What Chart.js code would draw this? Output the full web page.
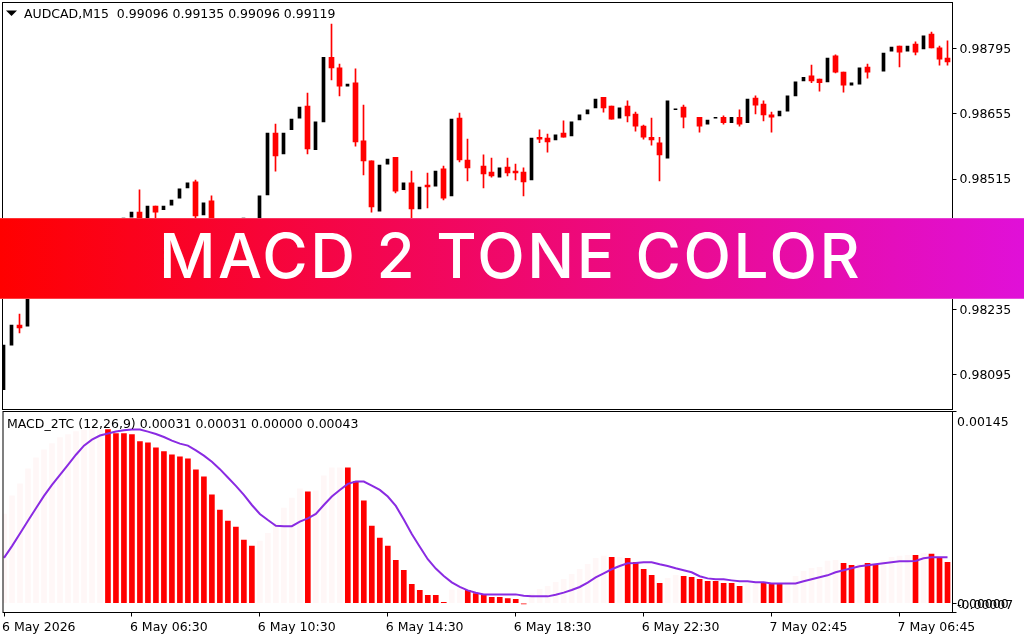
<!DOCTYPE html>
<html>
<head>
<meta charset="utf-8">
<title>MACD 2 Tone Color</title>
<script src="https://cdn.jsdelivr.net/npm/chart.js@4/dist/chart.umd.min.js"></script>
<style>
  html, body { margin: 0; padding: 0; background: #fff; overflow: hidden; }
  #wrap { position: relative; width: 1024px; height: 640px; }
  canvas { position: absolute; left: 0; }
  #priceChart { top: 0; }
  #macdChart { top: 410px; }
  #banner {
    position: absolute; left: 0; top: 218px; width: 1024px; height: 81px;
    background: linear-gradient(90deg, #ff0000 0%, #e010d8 100%);
    box-shadow: inset 0 1px 0 rgba(255,255,255,.2), inset 0 -1px 0 rgba(255,255,255,.25);
    color: #fff; font-family: Inter, sans-serif; font-weight: 500; font-size: 62px;
    line-height: 76px; text-align: center; white-space: nowrap; letter-spacing: 2.5px; text-indent: -3px;
  }
</style>
</head>
<body>
<div id="wrap">
  <canvas id="priceChart" width="1024" height="410"></canvas>
  <canvas id="macdChart" width="1024" height="230"></canvas>
  <div id="banner">MACD 2 TONE COLOR</div>
</div>
<script>
// candles in points (1 point = 0.00001), null = hidden behind the banner
const opens = [98062,98158,98201,98199,null,null,null,null,null,null,null,null,null,null,null,98410,98433,98444,98423,98457,
  98449,98459,98474,98496,98509,98438,98468,null,null,null,98416,null,98414,98481,98614,98569,98621,98646,98672,98578,
  98638,98777,98754,98715,98722,98597,98554,98446,98547,98562,98492,98507,98451,98502,98500,98537,98479,98646,98556,null,
  98543,98530,98519,98541,98532,98530,98513,98605,98603,98599,98614,98608,98642,98655,98668,98691,98672,98646,98672,98655,
  98629,98605,98593,98560,98664,98670,null,98648,98633,98646,98648,98636,98648,98636,98689,98676,98653,98651,98661,98694,
  98726,98737,98730,98724,98780,98745,98717,98719,98756,null,98747,98790,98801,98790,98805,98795,98827,98797,98775];
const highs = [98158,98201,98225,98277,null,null,null,null,null,null,null,null,null,null,null,98431,98444,98492,98457,98457,
  98457,98470,98494,98507,98513,98464,98479,null,null,null,98431,null,98479,98614,98633,98614,98644,98670,98700,98638,
  98777,98848,98762,98719,98752,98674,98554,98545,98558,98562,98507,98532,98498,98528,98532,98543,98644,98657,98601,null,
  98567,98560,98539,98560,98547,98539,98603,98621,98612,98610,98640,98638,98653,98664,98687,98691,98672,98668,98683,98659,
  98631,98646,98605,98683,98666,98674,null,98648,98642,98648,98651,98648,98664,98687,98694,98683,98659,98661,98694,98724,
  98734,98760,98730,98775,98782,98745,98722,98754,98762,null,98786,98799,98801,98801,98810,98823,98831,98801,98812];
const lows = [98062,98158,98184,98199,null,null,null,null,null,null,null,null,null,null,null,98410,98433,98414,98423,98418,
  98449,98459,98474,98496,98431,98438,98418,null,null,null,98416,null,98414,98481,98532,98569,98621,98646,98569,98578,
  98638,98728,98694,98715,98586,98524,98444,98446,98547,98485,98492,98427,98451,98453,98500,98470,98479,98552,98511,null,
  98496,98519,98519,98522,98513,98479,98513,98593,98573,98599,98605,98608,98642,98655,98668,98659,98644,98646,98638,98618,
  98601,98588,98511,98560,98664,98625,null,98616,98633,98646,98633,98636,98629,98636,98655,98640,98616,98651,98661,98694,
  98726,98722,98704,98724,98743,98702,98717,98719,98732,null,98747,98790,98756,98790,98782,98795,98797,98760,98760];
const closes = [98158,98201,98195,98277,null,null,null,null,null,null,null,null,null,null,null,98431,98444,98414,98457,98444,
  98457,98470,98494,98507,98436,98464,98418,null,null,null,98431,null,98479,98614,98565,98614,98644,98670,98580,98638,
  98777,98754,98715,98719,98595,98554,98455,98545,98558,98489,98507,98451,98498,98498,98532,98474,98644,98556,98539,null,
  98526,98522,98539,98528,98528,98509,98603,98601,98595,98610,98605,98638,98653,98664,98687,98668,98644,98668,98651,98629,
  98605,98599,98567,98683,98666,98648,null,98629,98642,98648,98636,98648,98633,98687,98674,98653,98648,98661,98694,98724,
  98734,98726,98722,98775,98745,98717,98722,98754,98745,null,98786,98799,98788,98801,98788,98823,98797,98773,98767];

// histogram and signal in millionths
const macdHist = [675,812,903,1017,1100,1161,1207,1252,1275,1298,1307,1313,1313,1313,1283,1283,1275,1222,1214,1176,
  1146,1123,1108,1093,1009,956,819,705,622,576,477,432,470,528,604,720,796,865,842,850,
  964,1024,1024,1024,920,774,584,492,432,325,249,143,97,59,59,6,102,110,97,74,
  67,44,44,36,29,-5,72,105,128,158,181,219,257,295,340,356,348,348,340,310,
  257,211,150,188,211,204,196,181,166,166,150,150,128,148,148,158,143,150,161,204,
  242,264,272,318,325,302,287,295,302,295,325,348,356,363,363,376,371,348,310];
const macdSignal = [343,432,528,624,718,812,895,971,1047,1123,1192,1237,1268,1283,1298,1308,1313,1313,1298,1280,
  1257,1230,1207,1192,1156,1116,1070,1014,951,888,819,743,675,629,586,583,583,617,642,675,
  743,807,857,903,920,920,890,857,807,736,634,523,427,333,262,206,158,123,97,80,
  67,67,67,67,67,57,52,52,52,64,80,100,123,156,196,226,257,282,302,305,
  310,310,295,282,264,249,234,204,188,181,181,173,166,166,158,158,150,150,150,150,
  166,181,196,211,234,249,264,280,287,295,302,310,318,318,320,340,348,348,348];
// bars drawn in the strong tone, all others are pale
const redBars = [13,14,15,16,17,18,19,20,21,22,23,24,25,26,27,28,29,30,31,38,
  43,44,45,46,47,48,49,50,51,52,53,54,55,58,59,60,61,62,63,64,65,76,78,79,80,81,82,
  85,86,87,88,89,90,91,92,95,96,97,105,106,108,109,114,116,117,118];

const priceTicks = [0.98795, 0.98655, 0.98515, 0.98375, 0.98235, 0.98095];
const macdTicks = [0.00145, 0, -0.00007];
const macdTickLabels = ["0.00145", "0.00000", "-0.00007"];
const timeTickBars = [0, 16, 32, 48, 64, 80, 96, 112];
const timeTickLabels = ["6 May 2026", "6 May 06:30", "6 May 10:30", "6 May 14:30", "6 May 18:30", "6 May 22:30", "7 May 02:45", "7 May 06:45"];
const priceHeader = "AUDCAD,M15  0.99096 0.99135 0.99096 0.99119";
const macdHeader = "MACD_2TC (12,26,9) 0.00031 0.00031 0.00000 0.00043";

const FONT = '12.5px "DejaVu Sans"';
const TEXT = "#000";
const RED = "#ff0000";
const PALE = "#fff7f7";
const VIOLET = "#8a2be2";

// bar index range so that bar i has its centre at x = 3.5 + 8 * i
const xMin = -0.125, xMax = 118.625;

Chart.defaults.font.family = "DejaVu Sans";
Chart.defaults.font.size = 12.5;
Chart.defaults.color = TEXT;

// candle parts, bodies and wicks are separate floating bars
const blackBodies = [], redBodies = [], redWicks = [];
opens.forEach((open, i) => {
  if (open === null) return;
  const body = { x: i, y: [open / 1e5, closes[i] / 1e5] };
  if (closes[i] > open) {
    blackBodies.push(body);
  } else {
    redBodies.push(body);
    redWicks.push({ x: i, y: [lows[i] / 1e5, highs[i] / 1e5] });
  }
});

const paleHist = [], redHist = [];
macdHist.forEach((v, i) => {
  (redBars.includes(i) ? redHist : paleHist).push({ x: i, y: v / 1e6 });
});

// frame round the plot and the small text line at its top left
const panelPlugin = {
  id: "panel",
  afterDraw(chart, args, opts) {
    const { ctx, chartArea: a } = chart;
    ctx.save();
    ctx.strokeStyle = "#000";
    ctx.lineWidth = 1;
    ctx.strokeRect(a.left, a.top, a.right - a.left, a.bottom - a.top);
    ctx.fillStyle = TEXT;
    ctx.font = FONT;
    ctx.textBaseline = "middle";
    ctx.textAlign = "left";
    ctx.fillText(opts.text, opts.x, opts.y);
    if (opts.arrow) {
      ctx.beginPath();
      ctx.moveTo(6, 10.5);
      ctx.lineTo(17, 10.5);
      ctx.lineTo(11.5, 16);
      ctx.closePath();
      ctx.fill();
    }
    ctx.restore();
  }
};

// MT4 keeps the scale labels inside the panel, so they sit off their ticks
const macdLabelsPlugin = {
  id: "macdLabels",
  afterDraw(chart) {
    const { ctx, scales } = chart;
    const shifts = [11, 2, -7];
    ctx.save();
    ctx.fillStyle = TEXT;
    ctx.font = FONT;
    ctx.textBaseline = "middle";
    ctx.textAlign = "left";
    macdTicks.forEach((v, i) => {
      ctx.fillText(macdTickLabels[i], 957, scales.y.getPixelForValue(v) + shifts[i]);
    });
    ctx.restore();
  }
};

const priceChart = new Chart(document.getElementById("priceChart"), {
  type: "bar",
  data: {
    datasets: [
      { data: redWicks, backgroundColor: RED, barThickness: 1, grouped: false, order: 3 },
      { data: redBodies, backgroundColor: RED, barThickness: 5, grouped: false, order: 2 },
      { data: blackBodies, backgroundColor: "#000", barThickness: 3, grouped: false, order: 1 }
    ]
  },
  options: {
    responsive: false,
    animation: false,
    devicePixelRatio: 1,
    layout: { autoPadding: false, padding: { left: 2.5, top: 2.5, bottom: 0.5 } },
    plugins: {
      legend: { display: false },
      tooltip: { enabled: false },
      panel: { text: priceHeader, x: 24, y: 15, arrow: true }
    },
    scales: {
      x: {
        type: "linear", min: xMin, max: xMax, offset: false, display: false,
        grid: { offset: false }
      },
      y: {
        position: "right", min: 0.9801958, max: 0.9889463,
        grid: { drawOnChartArea: false, color: "#000", tickLength: 4 },
        border: { color: "#000" },
        afterBuildTicks: s => { s.ticks = priceTicks.map(v => ({ value: v })); },
        // the top and bottom labels must not shrink the plot
        afterFit: s => { s.width = 71.5; s.paddingTop = 0; s.paddingBottom = 0; },
        ticks: { padding: 3, labelOffset: 1, callback: v => v.toFixed(5) }
      }
    }
  },
  plugins: [panelPlugin]
});

const macdChart = new Chart(document.getElementById("macdChart"), {
  type: "bar",
  data: {
    datasets: [
      { type: "line", data: macdSignal.map((v, i) => ({ x: i, y: v / 1e6 })), borderColor: VIOLET, borderWidth: 2, pointRadius: 0, tension: 0, order: 0 },
      { data: redHist, backgroundColor: RED, barThickness: 5, grouped: false, order: 1 },
      { data: paleHist, backgroundColor: PALE, barThickness: 5, grouped: false, order: 2 }
    ]
  },
  options: {
    responsive: false,
    animation: false,
    devicePixelRatio: 1,
    layout: { autoPadding: false, padding: { left: 2.5, top: 1.5 } },
    plugins: {
      legend: { display: false },
      tooltip: { enabled: false },
      panel: { text: macdHeader, x: 7, y: 15 }
    },
    scales: {
      x: {
        type: "linear", min: xMin, max: xMax, offset: false,
        grid: { offset: false, drawOnChartArea: false, color: "#000", tickLength: 4 },
        border: { color: "#000" },
        afterBuildTicks: s => { s.ticks = timeTickBars.map(v => ({ value: v })); },
        afterFit: s => { s.height = 27.5; },
        ticks: {
          align: "start", maxRotation: 0, autoSkip: false, padding: 4, labelOffset: -2,
          callback: v => timeTickLabels[timeTickBars.indexOf(v)]
        }
      },
      y: {
        position: "right", min: -0.00007, max: 0.00145,
        grid: { drawOnChartArea: false, color: "#000", tickLength: 4 },
        border: { color: "#000" },
        afterBuildTicks: s => { s.ticks = macdTicks.map(v => ({ value: v })); },
        afterFit: s => { s.width = 71.5; },
        ticks: { display: false }
      }
    }
  },
  plugins: [panelPlugin, macdLabelsPlugin]
});
</script>
</body>
</html>
